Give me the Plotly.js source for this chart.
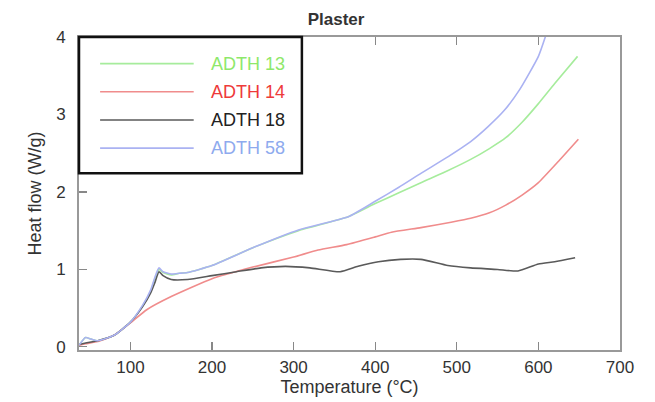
<!DOCTYPE html>
<html>
<head>
<meta charset="utf-8">
<script src="https://cdn.plot.ly/plotly-3.0.1.min.js"></script>
<style>
  html, body { margin: 0; padding: 0; background: #fff; }
  #chart { width: 655px; height: 402px; }
</style>
</head>
<body>
<div id="chart"></div>
<script>
// DSC heat flow curves of plaster samples
const seriesNames = ['ADTH 13', 'ADTH 14', 'ADTH 18', 'ADTH 58'];
const lineColors = ['#a6ec9c', '#f08c8c', '#5a5a5a', '#aab2f2'];
const labelColors = ['#8ee86a', '#ee3a3a', '#222222', '#8eaaee'];

const temp13 = [37, 45, 52, 60, 80, 100, 115, 125, 130, 135, 140, 150, 160, 170, 200, 250, 306, 367, 400, 429, 456, 490, 517, 540, 560, 580, 600, 620, 648];
const heat13 = [0.02, 0.12, 0.10, 0.08, 0.15, 0.32, 0.53, 0.72, 0.88, 1.00, 0.96, 0.93, 0.95, 0.96, 1.05, 1.28, 1.50, 1.68, 1.85, 1.99, 2.12, 2.28, 2.42, 2.56, 2.70, 2.90, 3.14, 3.40, 3.75];

const temp14 = [37, 45, 60, 80, 100, 120, 150, 200, 250, 300, 330, 365, 400, 420, 456, 493, 517, 540, 560, 580, 600, 625, 649];
const heat14 = [0.02, 0.04, 0.07, 0.15, 0.31, 0.48, 0.65, 0.88, 1.03, 1.16, 1.25, 1.32, 1.42, 1.48, 1.54, 1.61, 1.66, 1.73, 1.83, 1.96, 2.12, 2.40, 2.68];

const temp18 = [37, 45, 60, 80, 100, 115, 125, 130, 135, 140, 150, 170, 200, 230, 260, 290, 320, 357, 379, 404, 431, 456, 489, 517, 550, 575, 600, 620, 645];
const heat18 = [0.03, 0.05, 0.08, 0.15, 0.32, 0.52, 0.70, 0.83, 0.97, 0.92, 0.87, 0.87, 0.92, 0.97, 1.02, 1.04, 1.02, 0.97, 1.04, 1.10, 1.13, 1.13, 1.05, 1.02, 1.00, 0.98, 1.07, 1.10, 1.15];

const temp58 = [37, 45, 52, 60, 80, 100, 115, 125, 130, 135, 140, 150, 160, 170, 200, 250, 306, 367, 400, 429, 456, 490, 517, 538, 558, 577, 600, 610];
const heat58 = [0.02, 0.12, 0.10, 0.08, 0.15, 0.32, 0.54, 0.74, 0.90, 1.02, 0.97, 0.94, 0.95, 0.96, 1.05, 1.28, 1.51, 1.68, 1.88, 2.06, 2.24, 2.46, 2.65, 2.84, 3.05, 3.32, 3.75, 4.05];

const xs = [temp13, temp14, temp18, temp58];
const ys = [heat13, heat14, heat18, heat58];

const traces = seriesNames.map((name, i) => ({
  type: 'scatter',
  mode: 'lines',
  name: name,
  x: xs[i],
  y: ys[i],
  line: { color: lineColors[i], width: 1.6, shape: 'spline', smoothing: 0.5 },
  hoverinfo: 'skip'
}));

const fontFamily = 'Liberation Sans, Arial, sans-serif';
const tickFont = { family: fontFamily, size: 17, color: '#333' };
const titleFont = { family: fontFamily, size: 18, color: '#333' };

// Boxed key in the upper left corner of the plot area
const shapes = [{
  type: 'rect', xref: 'paper', yref: 'paper',
  x0: 0, x1: 0.412, y0: 0.565, y1: 1,
  line: { color: '#111', width: 2.5 }, fillcolor: '#fff', layer: 'above'
}];
const annotations = [];
const rowTop = 0.915, rowStep = 0.09;
seriesNames.forEach((name, i) => {
  const yy = rowTop - i * rowStep;
  shapes.push({
    type: 'line', xref: 'paper', yref: 'paper',
    x0: 0.039, x1: 0.212, y0: yy, y1: yy,
    line: { color: lineColors[i], width: 1.6 }, layer: 'above'
  });
  annotations.push({
    xref: 'paper', yref: 'paper', x: 0.385, y: yy,
    xanchor: 'right', yanchor: 'middle', showarrow: false,
    text: name, font: { family: fontFamily, size: 18, color: labelColors[i] }
  });
});

const layout = {
  width: 655, height: 402,
  margin: { l: 79, r: 35, t: 37, b: 52 },
  paper_bgcolor: '#fff', plot_bgcolor: '#fff',
  showlegend: false,
  title: {
    text: 'Plaster',
    x: 0.513, xanchor: 'center', y: 0.952, yanchor: 'middle',
    font: { family: fontFamily, size: 17, color: '#333', weight: 'bold' }
  },
  xaxis: {
    range: [37, 700],
    tickvals: [100, 200, 300, 400, 500, 600, 700],
    ticks: 'inside', ticklen: 8, tickwidth: 1.2, tickcolor: '#888',
    showline: true, linecolor: '#999', linewidth: 2, mirror: 'allticks',
    showgrid: false, zeroline: false,
    tickfont: tickFont, ticklabelstandoff: 1,
    title: { text: 'Temperature (°C)', font: titleFont, standoff: 2 }
  },
  yaxis: {
    range: [-0.04, 4],
    tickvals: [0, 1, 2, 3, 4],
    ticks: 'inside', ticklen: 8, tickwidth: 1.2, tickcolor: '#888',
    showline: true, linecolor: '#999', linewidth: 2, mirror: true,
    showgrid: false, zeroline: false,
    tickfont: tickFont, ticklabelstandoff: 8,
    title: { text: 'Heat flow (W/g)', font: titleFont, standoff: 10 }
  },
  shapes: shapes,
  annotations: annotations
};

Plotly.newPlot('chart', traces, layout, { staticPlot: true, displayModeBar: false });
</script>
</body>
</html>
